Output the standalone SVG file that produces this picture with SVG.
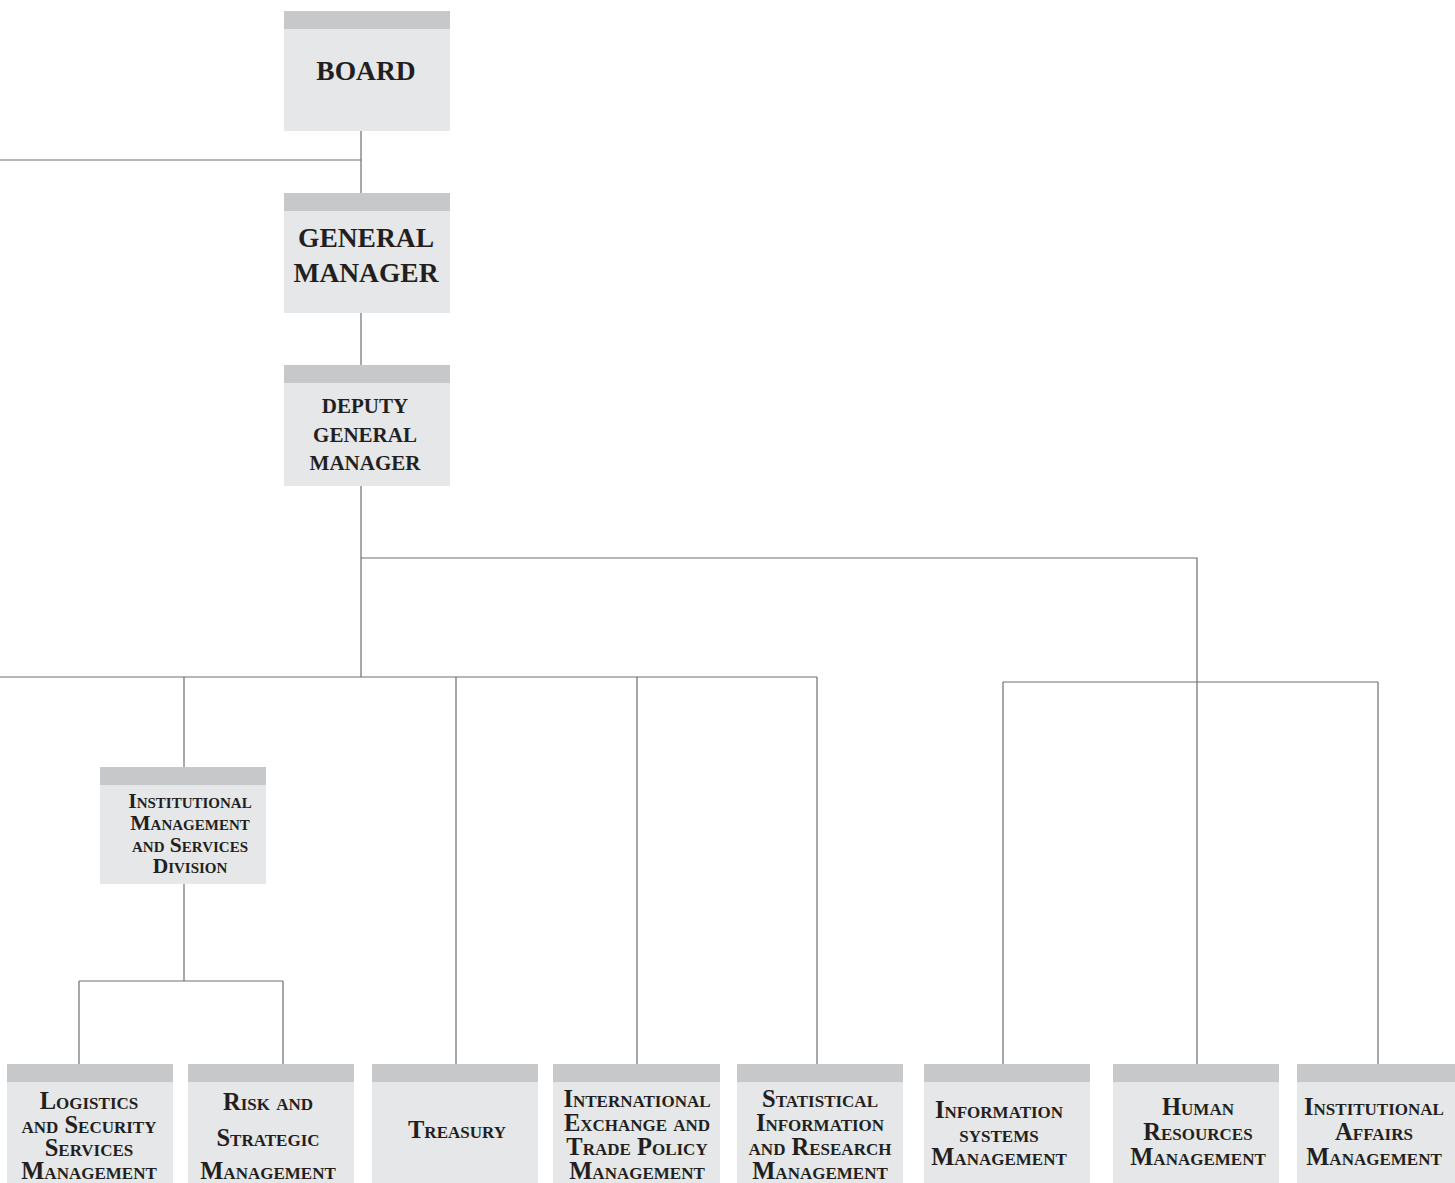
<svg xmlns="http://www.w3.org/2000/svg" width="1455" height="1183" viewBox="0 0 1455 1183">
<style>
.box{fill:#e6e7e8}
.band{fill:#c7c8ca}
.t{font-family:"Liberation Serif","DejaVu Serif",serif;font-weight:bold;fill:#231f20;text-anchor:middle}
.big{font-size:27.5px}
.dgm{font-size:21px}
.sc{font-variant:small-caps;font-size:24.5px}
.scm{font-variant:small-caps;font-size:21.5px}
.ln{stroke:#6d6e70;stroke-width:1.2;fill:none}
</style>
<rect width="1455" height="1183" fill="#ffffff"/>
<g id="connectors" class="ln">
<path d="M0 160H361M361 131V193M361 313V365M361 486V677"/>
<path d="M361 558H1197V1064"/>
<path d="M0 677H817M184 677V767M456 677V1064M637 677V1064M817 677V1064"/>
<path d="M1003 682H1378M1003 682V1064M1378 682V1064"/>
<path d="M184 884V981M79 981H283M79 981V1064M283 981V1064"/>
</g>
<g id="board"><rect class="box" x="284" y="11" width="166" height="120"/><rect class="band" x="284" y="11" width="166" height="18"/><text class="t big" x="366" y="80">BOARD</text></g>
<g id="general-manager"><rect class="box" x="284" y="193" width="166" height="120"/><rect class="band" x="284" y="193" width="166" height="18"/><text class="t big" x="366" y="247">GENERAL</text><text class="t big" x="366" y="282">MANAGER</text></g>
<g id="deputy-general-manager"><rect class="box" x="284" y="365" width="166" height="121"/><rect class="band" x="284" y="365" width="166" height="18"/><text class="t dgm" x="365" y="413">DEPUTY</text><text class="t dgm" x="365" y="442">GENERAL</text><text class="t dgm" x="365" y="470">MANAGER</text></g>
<g id="institutional-management"><rect class="box" x="100" y="767" width="166" height="117"/><rect class="band" x="100" y="767" width="166" height="18"/><text class="t scm" x="190" y="808">Institutional</text><text class="t scm" x="190" y="830">Management</text><text class="t scm" x="190" y="852">and Services</text><text class="t scm" x="190" y="873">Division</text></g>
<g id="logistics"><rect class="box" x="7" y="1064" width="166" height="119"/><rect class="band" x="7" y="1064" width="166" height="18"/><text class="t sc" x="89" y="1109">Logistics</text><text class="t sc" x="89" y="1133">and Security</text><text class="t sc" x="89" y="1156">Services</text><text class="t sc" x="89" y="1179">Management</text></g>
<g id="risk"><rect class="box" x="188" y="1064" width="166" height="119"/><rect class="band" x="188" y="1064" width="166" height="18"/><text class="t sc" x="268" y="1110">Risk and</text><text class="t sc" x="268" y="1146">Strategic</text><text class="t sc" x="268" y="1179">Management</text></g>
<g id="treasury"><rect class="box" x="372" y="1064" width="166" height="119"/><rect class="band" x="372" y="1064" width="166" height="18"/><text class="t sc" x="457" y="1138">Treasury</text></g>
<g id="international"><rect class="box" x="553" y="1064" width="167" height="119"/><rect class="band" x="553" y="1064" width="167" height="18"/><text class="t sc" x="637" y="1107">International</text><text class="t sc" x="637" y="1131">Exchange and</text><text class="t sc" x="637" y="1155">Trade Policy</text><text class="t sc" x="637" y="1179">Management</text></g>
<g id="statistical"><rect class="box" x="737" y="1064" width="166" height="119"/><rect class="band" x="737" y="1064" width="166" height="18"/><text class="t sc" x="820" y="1107">Statistical</text><text class="t sc" x="820" y="1131">Information</text><text class="t sc" x="820" y="1155">and Research</text><text class="t sc" x="820" y="1179">Management</text></g>
<g id="information-systems"><rect class="box" x="924" y="1064" width="166" height="119"/><rect class="band" x="924" y="1064" width="166" height="18"/><text class="t sc" x="999" y="1118">Information</text><text class="t sc" x="999" y="1142">systems</text><text class="t sc" x="999" y="1165">Management</text></g>
<g id="human-resources"><rect class="box" x="1113" y="1064" width="166" height="119"/><rect class="band" x="1113" y="1064" width="166" height="18"/><text class="t sc" x="1198" y="1115">Human</text><text class="t sc" x="1198" y="1140">Resources</text><text class="t sc" x="1198" y="1165">Management</text></g>
<g id="institutional-affairs"><rect class="box" x="1297" y="1064" width="166" height="119"/><rect class="band" x="1297" y="1064" width="166" height="18"/><text class="t sc" x="1374" y="1115">Institutional</text><text class="t sc" x="1374" y="1140">Affairs</text><text class="t sc" x="1374" y="1165">Management</text></g>
</svg>
